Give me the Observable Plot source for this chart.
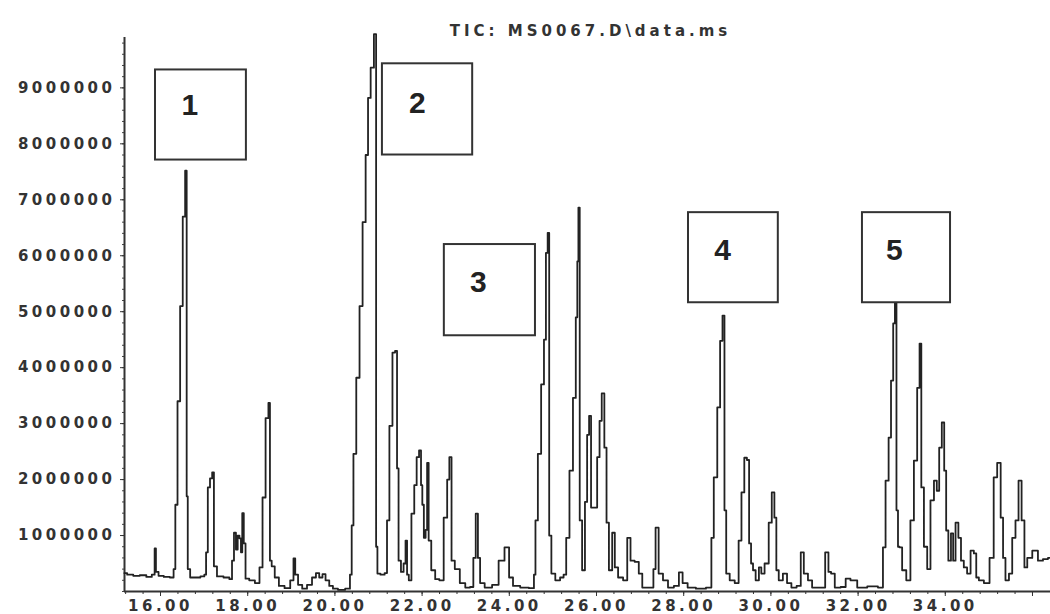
<!DOCTYPE html>
<html><head><meta charset="utf-8">
<script src="https://cdn.jsdelivr.net/npm/d3@7"></script>
<script src="https://cdn.jsdelivr.net/npm/@observablehq/plot@0.6"></script>
<style>
html,body{margin:0;padding:0;background:#fff;}
#chart svg{display:block;}
</style></head><body><div id="chart"></div>
<script>
// Retention time (min) and abundance (millions of counts)
const retentionTime = [
15.17,15.30,15.45,15.60,15.75,15.85,15.88,15.91,16.00,16.15,16.28,16.32,16.36,16.42,16.48,16.54,16.59,16.61,16.64,16.72,
16.85,16.98,17.03,17.06,17.11,17.16,17.21,17.24,17.35,17.54,17.62,17.66,17.71,17.75,17.79,17.83,17.86,17.89,17.93,17.97,
18.10,18.23,18.31,18.37,18.45,18.50,18.52,18.58,18.66,18.77,18.92,19.03,19.07,19.11,19.20,19.30,19.42,19.53,19.60,19.68,
19.75,19.82,19.92,19.99,20.15,20.32,20.37,20.40,20.45,20.53,20.60,20.67,20.74,20.78,20.86,20.93,20.96,20.99,21.10,21.18,
21.21,21.29,21.35,21.41,21.44,21.48,21.55,21.60,21.64,21.67,21.72,21.79,21.85,21.90,21.96,21.99,22.02,22.06,22.10,22.13,
22.17,22.25,22.35,22.44,22.55,22.60,22.65,22.70,22.80,22.93,23.05,23.15,23.20,23.26,23.30,23.36,23.51,23.70,23.81,23.97,
24.02,24.15,24.35,24.55,24.58,24.62,24.69,24.77,24.82,24.86,24.90,24.93,25.00,25.11,25.22,25.27,25.34,25.42,25.50,25.55,
25.57,25.60,25.63,25.71,25.76,25.81,25.85,25.90,25.98,26.05,26.09,26.15,26.21,26.25,26.32,26.40,26.44,26.55,26.67,26.74,
26.82,26.93,27.01,27.09,27.28,27.33,27.38,27.47,27.58,27.70,27.85,27.93,28.02,28.16,28.40,28.62,28.65,28.73,28.81,28.86,
28.92,28.95,29.00,29.11,29.23,29.29,29.36,29.42,29.48,29.52,29.57,29.61,29.69,29.76,29.80,29.91,29.99,30.05,30.11,30.14,
30.22,30.33,30.41,30.53,30.65,30.72,30.79,30.91,30.98,31.20,31.29,31.35,31.41,31.52,31.68,31.75,31.90,32.06,32.36,32.55,
32.59,32.67,32.73,32.78,32.83,32.86,32.90,32.93,32.97,33.05,33.16,33.24,33.32,33.39,33.43,33.47,33.55,33.62,33.70,33.78,
33.83,33.89,33.95,34.00,34.04,34.10,34.16,34.20,34.27,34.33,34.39,34.46,34.54,34.62,34.69,34.73,34.81,34.96,35.07,35.15,
35.23,35.31,35.34,35.42,35.50,35.57,35.65,35.71,35.79,35.84,35.92,36.07,36.18,36.30,36.41
];
const abundanceMillions = [
0.33,0.30,0.28,0.29,0.26,0.30,0.77,0.35,0.28,0.26,0.25,0.40,1.55,3.40,5.10,6.70,7.52,1.70,0.40,0.25,
0.25,0.27,0.30,0.70,1.86,2.02,2.13,0.45,0.27,0.25,0.22,0.55,1.05,0.75,1.00,0.95,0.70,1.40,0.86,0.23,
0.20,0.15,0.43,1.68,3.10,3.37,0.55,0.45,0.25,0.10,0.06,0.20,0.59,0.30,0.12,0.05,0.12,0.25,0.33,0.25,
0.31,0.20,0.10,0.05,0.03,0.05,0.30,1.18,2.46,3.82,5.10,6.60,7.80,8.82,9.36,9.96,0.80,0.32,0.30,0.33,
1.27,2.96,4.27,4.30,2.20,0.55,0.35,0.50,0.91,0.30,0.20,1.39,1.90,2.40,2.52,1.90,1.55,0.96,1.10,2.30,
0.91,0.38,0.22,0.20,1.32,2.00,2.40,0.55,0.40,0.15,0.07,0.08,0.60,1.39,0.60,0.15,0.07,0.12,0.55,0.79,
0.25,0.10,0.07,0.06,0.30,1.27,2.46,3.70,4.50,6.05,6.41,1.00,0.32,0.20,0.25,0.30,0.96,2.16,3.46,4.90,
5.90,6.86,1.27,0.38,1.60,2.80,3.14,1.50,1.50,2.40,3.05,3.54,2.57,1.23,0.38,1.05,0.43,0.25,0.20,0.96,
0.55,0.53,0.32,0.07,0.07,0.40,1.14,0.32,0.20,0.07,0.10,0.34,0.15,0.07,0.05,0.07,0.96,2.04,3.29,4.48,
4.93,1.45,0.32,0.20,0.15,0.91,1.77,2.39,2.35,0.86,0.50,0.38,0.20,0.43,0.32,0.50,1.23,1.77,1.32,0.38,
0.20,0.32,0.15,0.07,0.10,0.70,0.32,0.20,0.07,0.07,0.70,0.35,0.32,0.07,0.08,0.23,0.20,0.07,0.09,0.07,
0.79,1.98,2.75,3.77,4.79,5.16,1.45,0.80,0.79,0.38,0.20,1.27,2.34,3.64,4.43,1.86,0.80,0.40,1.63,1.98,
1.80,2.57,3.02,2.16,1.09,0.55,1.04,0.55,1.23,0.96,0.55,0.43,0.32,0.73,0.68,0.25,0.20,0.15,0.60,2.04,
2.30,1.32,0.60,0.20,0.32,0.96,1.27,1.98,1.27,0.43,0.60,0.73,0.55,0.58,0.60
];

// Axis ticks
const yTickValues = [1000000,2000000,3000000,4000000,5000000,6000000,7000000,8000000,9000000];
const xTickValues = [16,18,20,22,24,26,28,30,32,34,36];
const xLabelledMax = 34;

// Numbered peak annotations (box extents and label anchor, in data units)
const boxLabels = ["1","2","3","4","5"];
const boxTimeStart = [15.885, 21.09, 22.51, 28.11, 32.10];
const boxTimeEnd   = [17.97, 23.16, 24.60, 30.17, 34.12];
const boxTopM      = [9.32, 9.43, 6.20, 6.77, 6.77];
const boxBottomM   = [7.71, 7.80, 4.57, 5.16, 5.16];
const labelTime    = [16.67, 21.89, 23.29, 28.89, 32.83];
const labelM       = [8.68, 8.73, 5.52, 6.09, 6.09];

const titleText = "TIC: MS0067.D\\data.ms";

const trace = retentionTime.map((t, i) => ({t, v: abundanceMillions[i] * 1e6}));
const boxes = boxLabels.map((label, i) => ({
  label,
  x1: boxTimeStart[i], x2: boxTimeEnd[i],
  y1: boxBottomM[i] * 1e6, y2: boxTopM[i] * 1e6,
  lx: labelTime[i], ly: labelM[i] * 1e6
}));

const xMin = 15.174, xMax = 36.413;
const yMinor = d3.range(0, 9.85e6, 2e5);
const xMinor = d3.range(15.2, 36.4, 0.4);

const axisFont = {fontSize: 15, fontWeight: "bold", fontFamily: "DejaVu Sans"};

const plot = Plot.plot({
  width: 1050, height: 614,
  marginTop: 37, marginBottom: 23, marginLeft: 124, marginRight: 0,
  style: {background: "#fff", color: "#333"},
  x: {domain: [xMin, xMax], axis: null},
  y: {domain: [0, 9.9e6], axis: null},
  marks: [
    Plot.axisY(yMinor, {tickSize: 2, tickFormat: () => "", stroke: "#444"}),
    Plot.axisY(yTickValues, {tickSize: 4, tickPadding: 5, tickFormat: d => String(d), ...axisFont, fill: "#333", stroke: "#333"}),
    Plot.axisX(xMinor, {tickSize: 3, tickFormat: () => "", stroke: "#333"}),
    Plot.axisX(xTickValues, {tickSize: 5, tickPadding: 4, tickFormat: d => d <= xLabelledMax ? d.toFixed(2) : "", ...axisFont, fill: "#333", stroke: "#333"}),
    Plot.ruleX([xMin], {stroke: "#333", strokeWidth: 2}),
    Plot.ruleY([0], {stroke: "#333", strokeWidth: 2}),
    Plot.lineY(trace, {x: "t", y: "v", curve: "step", stroke: "#222", strokeWidth: 1.8}),
    Plot.rect(boxes, {x1: "x1", x2: "x2", y1: "y1", y2: "y2", fill: "white", stroke: "#333", strokeWidth: 2}),
    Plot.text(boxes, {x: "lx", y: "ly", text: "label", fontSize: 30, fontWeight: "bold", fontFamily: "Liberation Sans", fill: "#222"}),
    Plot.text([titleText], {frameAnchor: "top", dy: -12, dx: 3, ...axisFont, fill: "#333"})
  ]
});

d3.select(plot).selectAll('g[aria-label="y-axis tick label"] text, g[aria-label="x-axis tick label"] text')
  .style("letter-spacing", "3.5px");
d3.select(plot).selectAll("text")
  .filter(function() { return this.textContent === titleText; })
  .style("letter-spacing", "4px");

document.getElementById("chart").appendChild(plot);
</script>
</body></html>
